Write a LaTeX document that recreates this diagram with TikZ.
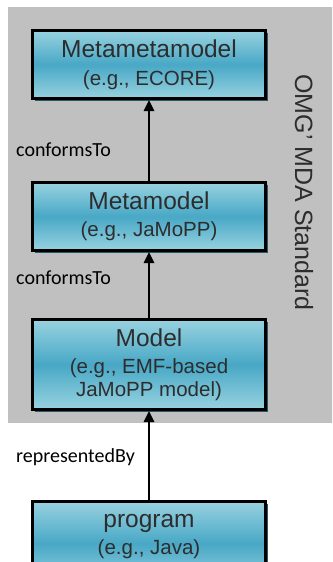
\documentclass[tikz,border=0pt]{standalone}
\usepackage{fontspec}
\setmainfont{Liberation Sans}
\newfontfamily\relfont{Carlito}
\usetikzlibrary{arrows.meta,positioning,shadows}

\definecolor{mdagray}{RGB}{192,192,192}
\definecolor{boxlight}{RGB}{152,210,224}
\definecolor{boxdark}{RGB}{72,168,198}
\definecolor{boxshadow}{RGB}{40,88,104}
\definecolor{boxtext}{RGB}{45,45,45}

\begin{document}
\begin{tikzpicture}[x=1pt,y=-1pt,>={Triangle[length=11pt,width=10pt]},
	level/.style={draw=black,line width=3pt,minimum width=233pt,minimum height=68pt,
		inner sep=0pt,align=center,text=boxtext,
		top color=boxlight,bottom color=boxlight,middle color=boxdark,
		drop shadow={shadow xshift=2.5pt,shadow yshift=-2.5pt,fill=boxshadow,opacity=1},
		font=\fontsize{20.5}{23}\selectfont},
	big/.style={font=\fontsize{24.5}{27}\selectfont},
	rel/.style={font=\relfont\fontsize{20}{24}\selectfont,inner sep=0pt,anchor=base west},
	conn/.style={->,line width=2.5pt}]
	\path[use as bounding box,clip] (0,0) rectangle (332,562);
	\fill[mdagray] (8,7) rectangle (334,423);

	\node[level] (mmm) at (149,64.5) {{\fontsize{24.5}{27}\selectfont Metametamodel}\\[4.5pt](e.g., ECORE)};
	\node[level] (mm) [below=81pt of mmm] {{\fontsize{24.5}{27}\selectfont Metamodel}\\[4pt](e.g., JaMoPP)};
	\node[level,minimum height=90pt] (m) [below=66pt of mm] {{\fontsize{24.5}{27}\selectfont Model}\\[4pt](e.g., EMF-based\\JaMoPP model)};
	\node[level,minimum height=84pt] (prog) [below=89pt of m] {{\fontsize{24.5}{27}\selectfont program}\\[4pt](e.g., Java)\rule[-19pt]{0pt}{19pt}};

	\node[rotate=-90,inner sep=0pt,text=boxtext,font=\fontsize{25}{30}\selectfont] (omg) at (304,192.5) {OMG' MDA Standard};

	\draw[conn] (mm) -- (mmm);
	\draw[conn] (m) -- (mm);
	\draw[conn] (prog) -- (m);

	\node[rel] (conf1) at (16,156) {conformsTo};
	\node[rel] (conf2) at (16,284) {conformsTo};
	\node[rel] (repr) at (16,462) {representedBy};
\end{tikzpicture}
\end{document}
